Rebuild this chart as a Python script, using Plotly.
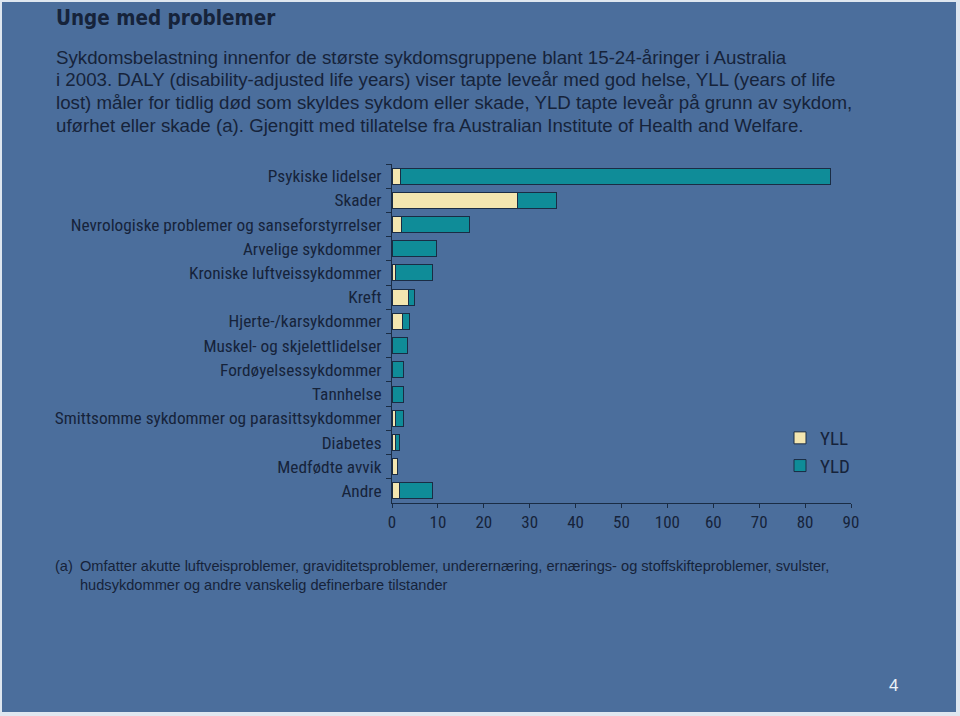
import plotly.graph_objects as go

categories = [
    "Psykiske lidelser",
    "Skader",
    "Nevrologiske problemer og sanseforstyrrelser",
    "Arvelige sykdommer",
    "Kroniske luftveissykdommer",
    "Kreft",
    "Hjerte-/karsykdommer",
    "Muskel- og skjelettlidelser",
    "Fordøyelsessykdommer",
    "Tannhelse",
    "Smittsomme sykdommer og parasittsykdommer",
    "Diabetes",
    "Medfødte avvik",
    "Andre",
]
yll = [1.8, 27.4, 2.1, 0.0, 0.8, 3.7, 2.2, 0.0, 0.0, 0.0, 0.7, 0.7, 1.1, 1.7]
yld = [93.8, 8.5, 14.8, 9.7, 8.1, 1.2, 1.7, 3.4, 2.5, 2.5, 1.8, 1.0, 0.2, 7.1]

tick_vals = [0, 10, 20, 30, 40, 50, 60, 70, 80, 90, 100]
tick_text = ["0", "10", "20", "30", "40", "50", "100", "60", "70", "80", "90"]

subtitle_lines = [
    "Sykdomsbelastning innenfor de største sykdomsgruppene blant 15-24-åringer i Australia",
    "i 2003. DALY (disability-adjusted life years) viser tapte leveår med god helse, YLL (years of life",
    "lost) måler for tidlig død som skyldes sykdom eller skade, YLD tapte leveår på grunn av sykdom,",
    "uførhet eller skade (a). Gjengitt med tillatelse fra Australian Institute of Health and Welfare.",
]
footnote_lines = [
    "Omfatter akutte luftveisproblemer, graviditetsproblemer, underernæring, ernærings- og stoffskifteproblemer, svulster,",
    "hudsykdommer og andre vanskelig definerbare tilstander",
]

W, H = 960, 716
BG = "#4b6e9c"
DARK = "#16233a"
CREAM = "#f3e6b0"
TEAL = "#0f8c98"
EDGE = "#1a2c44"
NARROW = "Liberation Sans Narrow, Arial Narrow, Roboto Condensed, sans-serif"
SANS = "Liberation Sans, Arial, sans-serif"


def px(x):
    return x / W


def py(y):
    return 1 - y / H


fig = go.Figure()
fig.add_trace(go.Bar(
    y=categories, x=yll, name="YLL", orientation="h",
    marker=dict(color=CREAM, line=dict(color=EDGE, width=1)),
))
fig.add_trace(go.Bar(
    y=categories, x=yld, name="YLD", orientation="h",
    marker=dict(color=TEAL, line=dict(color=EDGE, width=1)),
))

fig.update_layout(
    width=W, height=H,
    margin=dict(l=0, r=0, t=0, b=0, pad=0, autoexpand=False),
    paper_bgcolor="#dfe7f0",
    plot_bgcolor="rgba(0,0,0,0)",
    barmode="stack",
    bargap=0.34,
    showlegend=True,
    legend=dict(
        x=px(780), y=py(419), xanchor="left", yanchor="top",
        bgcolor="rgba(0,0,0,0)", traceorder="normal",
        font=dict(family=NARROW, size=19, color=DARK),
        itemwidth=30, tracegroupgap=2,
    ),
    xaxis=dict(
        domain=[px(392), px(851)],
        range=[0, 100],
        automargin=False,
        tickvals=tick_vals, ticktext=tick_text,
        showgrid=False, zeroline=False,
        showline=True, linecolor=EDGE, linewidth=1,
        ticks="outside", ticklen=4, tickcolor=EDGE,
        tickfont=dict(family=NARROW, size=17, color=DARK),
        anchor="y",
    ),
    yaxis=dict(
        domain=[py(503), py(164)],
        autorange="reversed",
        automargin=False,
        type="category",
        showgrid=False, zeroline=False,
        showline=True, linecolor=EDGE, linewidth=1,
        ticks="outside", ticklen=5, tickcolor=EDGE,
        tickson="boundaries",
        ticklabelstandoff=6,
        tickfont=dict(family=NARROW, size=17.3, color=DARK),
    ),
    shapes=[
        dict(type="rect", xref="paper", yref="paper",
             x0=px(2), x1=px(956), y0=py(712), y1=py(2),
             fillcolor=BG, line=dict(width=0), layer="below"),
    ],
)

annotations = [
    dict(text="<b>Unge med problemer</b>", x=px(54), y=py(18),
         font=dict(family="DejaVu Sans Condensed, sans-serif", size=20.5, color=DARK)),
    dict(text="(a)", x=px(53), y=py(566),
         font=dict(family=SANS, size=14.6, color=DARK)),
    dict(text="4", x=px(893), y=py(685), xanchor="center",
         font=dict(family=SANS, size=17, color="#eef3f8")),
]
for i, line in enumerate(subtitle_lines):
    annotations.append(dict(text=line, x=px(54), y=py(57 + 22.7 * i),
                            font=dict(family=SANS, size=18.7, color=DARK)))
for i, line in enumerate(footnote_lines):
    annotations.append(dict(text=line, x=px(78), y=py(566 + 18.5 * i),
                            font=dict(family=SANS, size=14.6, color=DARK)))

for a in annotations:
    a.setdefault("xanchor", "left")
    fig.add_annotation(xref="paper", yref="paper", yanchor="middle",
                       showarrow=False, align="left", **a)

fig.write_html(
    "out.html",
    config={"displayModeBar": False, "responsive": False},
    post_script=(
        "document.documentElement.style.margin='0';"
        "document.documentElement.style.overflow='hidden';"
        "document.body.style.margin='0';"
        "document.body.style.overflow='hidden';"
    ),
)
